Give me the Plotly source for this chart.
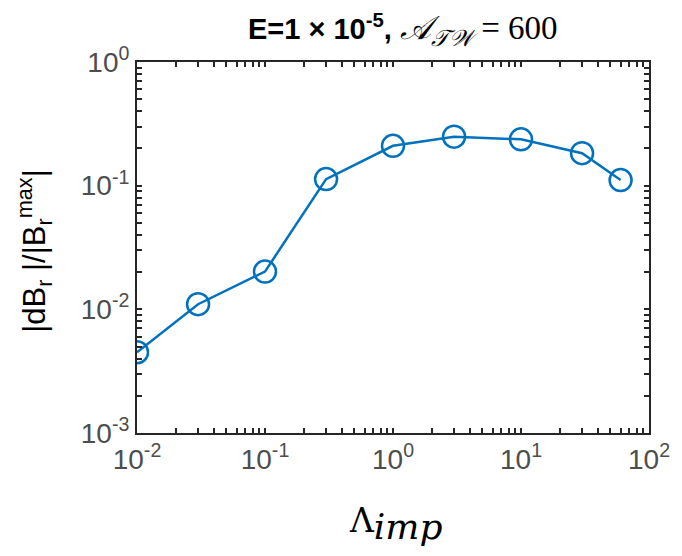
import plotly.graph_objects as go

lam_imp = [0.01, 0.03, 0.1, 0.3, 1, 3, 10, 30, 60]
dbr_ratio = [0.0045, 0.011, 0.0202, 0.113, 0.21, 0.249, 0.237, 0.183, 0.111]

x_major = [1e-2, 1e-1, 1e0, 1e1, 1e2]
x_major_text = ["10<sup>-2</sup>", "10<sup>-1</sup>", "10<sup>0</sup>", "10<sup>1</sup>", "10<sup>2</sup>"]
y_major = [1e-3, 1e-2, 1e-1, 1e0]
y_major_text = ["10<sup>-3</sup>", "10<sup>-2</sup>", "10<sup>-1</sup>", "10<sup>0</sup>"]

x_decades = [-2, -1, 0, 1]
y_decades = [-3, -2, -1]
x_minor = [k * 10.0 ** e for e in x_decades for k in range(2, 10)]
y_minor = [k * 10.0 ** e for e in y_decades for k in range(2, 10)]

x_tickvals = x_major + x_minor
x_ticktext = x_major_text + [""] * len(x_minor)
y_tickvals = y_major + y_minor
y_ticktext = y_major_text + [""] * len(y_minor)

blue = "#0072BD"
axc = "#262626"
tickc = "#4D4D4D"

fig = go.Figure()

axis_common = dict(
    type="log", showgrid=False, zeroline=False,
    showline=True, linecolor=axc, linewidth=2, mirror="allticks",
    ticks="inside", ticklen=5, tickwidth=1.5, tickcolor=axc,
    tickfont=dict(family="Liberation Sans, Arial", size=28, color=tickc),
)

fig.add_trace(go.Scatter(
    x=lam_imp, y=dbr_ratio, mode="lines+markers",
    line=dict(color=blue, width=2.5),
    marker=dict(symbol="circle-open", size=22, color=blue, line=dict(width=2.5, color=blue)),
    showlegend=False,
))

fig.update_xaxes(range=[-2, 2], tickmode="array", tickvals=x_tickvals, ticktext=x_ticktext, **axis_common)
fig.update_yaxes(range=[-3, 0], tickmode="array", tickvals=y_tickvals, ticktext=y_ticktext, **axis_common)

fig.update_layout(
    width=682, height=556,
    margin=dict(l=137, r=28, t=62, b=123),
    paper_bgcolor="white", plot_bgcolor="white",
    annotations=[
        dict(xref="paper", yref="paper", x=0.52, y=1.085, xanchor="center", yanchor="middle",
             showarrow=False,
             text="<b>E=1 × 10<sup>-5</sup>, </b><span style='font-family:Liberation Serif;font-size:33px'><i>𝒜</i><sub><i>𝒯𝒲</i></sub> = 600</span>",
             font=dict(family="Liberation Sans, Arial", size=29, color="black")),
        dict(xref="paper", yref="paper", x=0.505, y=-0.245, xanchor="center", yanchor="middle",
             showarrow=False,
             text="Λ<sub><span style='font-size:36px'><i>imp</i></span></sub>",
             font=dict(family="DejaVu Serif", size=33, color="black")),
        dict(xref="paper", yref="paper", x=-0.2, y=0.49, xanchor="center", yanchor="middle",
             showarrow=False, textangle=-90,
             text="|dB<sub>r</sub> |/|B<sub>r</sub><sup>max</sup>|",
             font=dict(family="Liberation Sans, Arial", size=31, color="black")),
    ],
)

fig.write_html("out.html")
